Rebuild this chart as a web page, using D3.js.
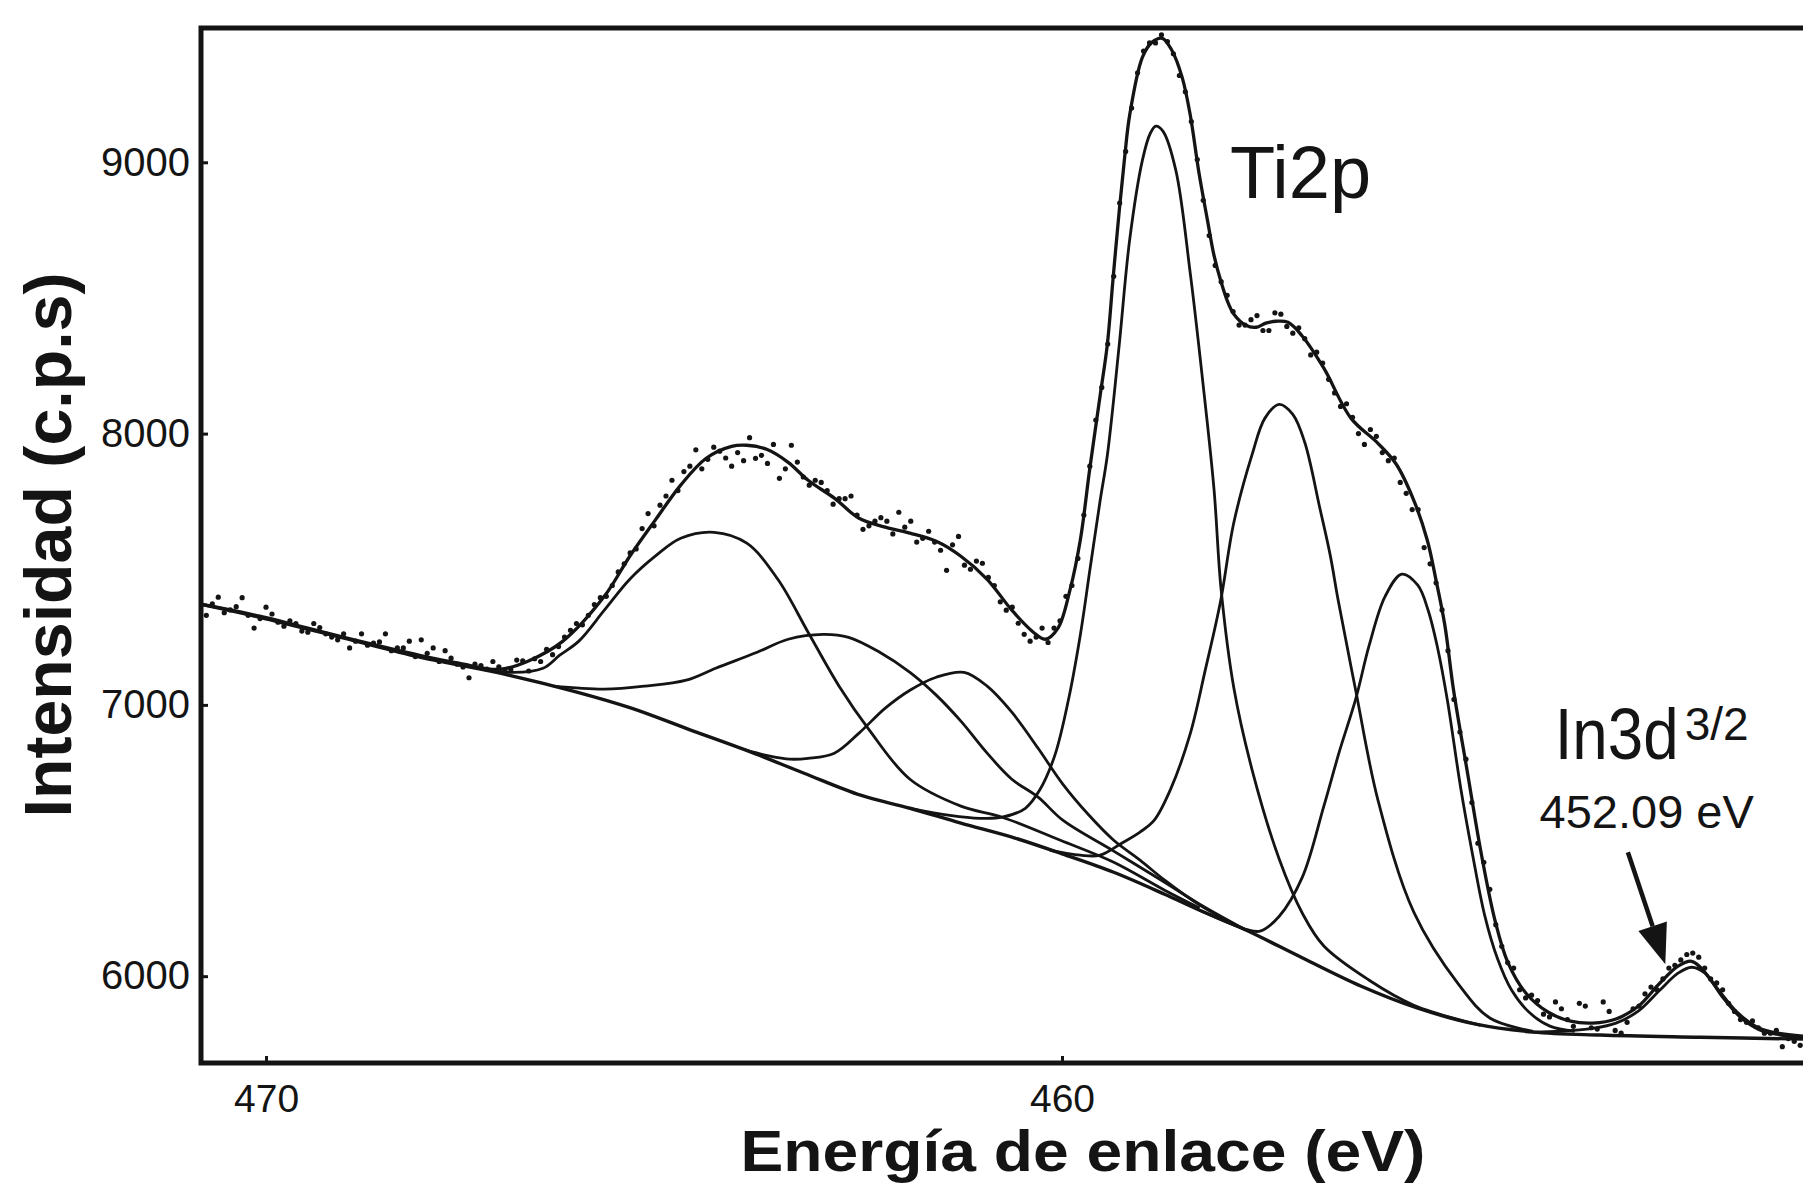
<!DOCTYPE html>
<html>
<head>
<meta charset="utf-8">
<script src="https://cdn.jsdelivr.net/npm/d3@7"></script>
<style>
  html, body { margin: 0; padding: 0; background: #fff; }
  svg { display: block; }
</style>
</head>
<body>
<svg id="chart" width="1803" height="1183"></svg>
<script>
// Axis ticks
const energyTicks = [470, 460];
const intensityTicks = [6000, 7000, 8000, 9000];

// Shirley background  [binding energy (eV), intensity (c.p.s)]
const shirleyBackground = [
  [470.82,7371],[470.08,7323],[469.02,7246],[468.07,7176],[467.06,7117],[466.13,7050],
  [465.41,6988],[464.69,6910],[463.97,6833],[463.24,6748],[462.53,6667],[461.91,6619],
  [461.27,6564],[460.59,6509],[459.99,6450],[459.35,6383],[458.71,6302],[458.27,6243],
  [457.69,6170],[456.97,6066],[456.24,5963],[455.53,5882],[454.80,5823],[454.08,5794],
  [453.24,5783],[451.98,5775],[450.69,5768]
];

// Sum of all fitted components
const fitEnvelope = [
  [470.82,7371],[470.08,7327],[469.02,7249],[468.07,7183],[467.58,7154],[467.07,7131],
  [466.71,7161],[466.27,7235],[465.75,7400],[465.43,7548],[465.11,7681],[464.79,7810],
  [464.47,7909],[464.15,7953],[463.96,7957],[463.71,7942],[463.44,7894],[463.19,7828],
  [462.86,7762],[462.55,7688],[462.22,7655],[461.91,7633],[461.58,7603],[461.27,7548],
  [460.94,7463],[460.63,7349],[460.36,7268],[460.21,7242],[460.05,7283],[459.90,7423],
  [459.77,7607],[459.65,7872],[459.52,8141],[459.43,8329],[459.36,8565],[459.28,8823],
  [459.21,9026],[459.15,9173],[458.99,9387],[458.87,9442],[458.74,9457],[458.62,9413],
  [458.49,9313],[458.39,9177],[458.28,8963],[458.17,8783],[458.09,8657],[458.00,8558],
  [457.91,8480],[457.84,8440],[457.69,8399],[457.56,8392],[457.44,8407],[457.31,8414],
  [457.16,8410],[456.98,8359],[456.71,8241],[456.37,8057],[456.03,7964],[455.80,7887],
  [455.58,7754],[455.41,7607],[455.30,7459],[455.19,7294],[455.08,7054],[454.90,6741],
  [454.74,6464],[454.56,6206],[454.40,6052],[454.17,5937],[453.89,5867],[453.61,5834],
  [453.33,5827],[453.04,5842],[452.76,5889],[452.49,5974],[452.26,6037],[452.09,6055],
  [451.98,6033],[451.75,5948],[451.52,5867],[451.29,5816],[451.08,5794],[450.69,5779]
];

// Individual fitted components (each drawn on top of the background)
const peak4644 = [
  [467.44,7143],[466.93,7120],[466.52,7135],[466.31,7183],[466.07,7235],[465.75,7349],
  [465.43,7463],[465.11,7548],[464.79,7614],[464.37,7636],[463.96,7596],[463.57,7463],
  [463.19,7268],[462.80,7069],[462.42,6907],[461.91,6726],[461.27,6627],[460.75,6586],
  [460.02,6501],[459.35,6420],[458.71,6317],[458.27,6251]
];
const peak4630 = [
  [466.39,7069],[465.75,7058],[465.24,7069],[464.72,7091],[464.35,7135],[463.83,7194],
  [463.44,7242],[463.00,7260],[462.68,7249],[462.29,7194],[461.91,7120],[461.58,7036],
  [461.27,6940],[460.94,6822],[460.63,6726],[460.30,6660],[459.99,6575],[459.35,6461],
  [458.71,6346],[458.27,6265],[457.69,6170]
];
const peak4612 = [
  [463.97,6833],[463.67,6811],[463.42,6800],[463.19,6803],[462.86,6822],[462.55,6896],
  [462.22,6988],[461.91,7054],[461.58,7102],[461.23,7120],[460.94,7069],[460.63,6973],
  [460.30,6840],[459.99,6708],[459.66,6593],[459.35,6501],[459.02,6428],[458.71,6354],
  [458.27,6262],[457.69,6170]
];
const peak4588 = [
  [461.91,6619],[461.41,6593],[461.03,6582],[460.75,6586],[460.46,6619],[460.28,6686],
  [460.09,6814],[459.92,7017],[459.77,7257],[459.65,7496],[459.52,7754],[459.43,7920],
  [459.28,8329],[459.15,8713],[458.99,9007],[458.89,9107],[458.82,9133],[458.73,9114],
  [458.57,8971],[458.39,8595],[458.23,8189],[458.09,7795],[458.00,7423],[457.84,7061],
  [457.61,6759],[457.27,6431],[456.98,6232],[456.71,6111],[456.14,5985],[455.58,5893],
  [454.74,5819]
];
const peak4573 = [
  [460.15,6464],[459.77,6446],[459.52,6446],[459.25,6490],[459.02,6531],[458.84,6575],
  [458.64,6686],[458.39,6892],[458.20,7128],[458.01,7378],[457.84,7673],[457.61,7924],
  [457.45,8057],[457.27,8108],[457.10,8071],[456.95,7968],[456.76,7725],[456.63,7552],
  [456.53,7386],[456.31,7054],[456.03,6649],[455.58,6236],[455.01,5967],[454.62,5845],
  [454.08,5797]
];
const peak4557 = [
  [458.27,6243],[457.69,6173],[457.51,6166],[457.27,6221],[456.98,6365],[456.71,6627],
  [456.51,6833],[456.31,7021],[456.14,7220],[455.94,7400],[455.73,7482],[455.53,7441],
  [455.40,7349],[455.28,7209],[455.16,7021],[454.99,6693],[454.84,6446],[454.69,6225],
  [454.53,6066],[454.35,5948],[454.12,5864],[453.87,5816],[453.56,5797]
];
const peakIn3d = [
  [454.08,5794],[453.74,5797],[453.33,5808],[453.04,5827],[452.76,5871],[452.49,5948],
  [452.26,6011],[452.09,6033],[451.92,6011],[451.71,5926],[451.48,5849],[451.23,5801],
  [450.98,5783],[450.69,5772]
];

// Measured counts
const measured = [
  [470.75,7330],[470.60,7397],[470.45,7350],[470.30,7395],[470.15,7283],[470.00,7360],
  [469.85,7305],[469.70,7310],[469.55,7272],[469.40,7300],[469.25,7262],[469.10,7240],
  [468.95,7210],[468.80,7262],[468.65,7228],[468.50,7262],[468.35,7210],[468.20,7235],
  [468.05,7240],[467.90,7210],[467.75,7200],[467.60,7150],[467.45,7100],[467.30,7145],
  [467.15,7160],[467.00,7128],[466.85,7165],[466.70,7125],[466.55,7160],[466.40,7185],
  [466.25,7250],[466.10,7300],[465.95,7330],[465.80,7395],[465.65,7440],[465.50,7520],
  [465.35,7575],[465.20,7705],[465.05,7736],[464.90,7828],[464.75,7860],[464.60,7940],
  [464.45,7905],[464.30,7935],[464.15,7880],[464.00,7900],[463.85,7909],[463.70,7890],
  [463.55,7835],[463.40,7957],[463.25,7840],[463.10,7828],[462.95,7790],[462.80,7760],
  [462.65,7770],[462.50,7647],[462.35,7677],[462.20,7677],[462.05,7710],[461.90,7677],
  [461.75,7614],[461.60,7600],[461.45,7496],[461.30,7621],[461.15,7500],[461.00,7522],
  [460.85,7440],[460.70,7349],[460.55,7301],[460.40,7235],[460.25,7283],[460.10,7283],
  [459.95,7400],[459.80,7540],[459.65,7880],[459.50,8170],[459.35,8580],[459.20,9040],
  [459.05,9330],[458.90,9440],[458.75,9470],[458.60,9400],[458.45,9260],[458.30,9010],
  [458.15,8730],[458.00,8560],[457.85,8450],[457.70,8400],[457.55,8435],[457.40,8380],
  [457.25,8440],[457.10,8370],[456.95,8350],[456.80,8300],[456.65,8200],[456.50,8100],
  [456.35,8060],[456.20,7960],[456.05,7990],[455.90,7900],[455.75,7820],[455.60,7720],
  [455.45,7580],[455.30,7450],[455.15,7200],[455.00,6900],[454.85,6640],[454.70,6420],
  [454.55,6190],[454.40,6050],[454.25,5950],[454.10,5930],[453.95,5860],[453.80,5905],
  [453.65,5840],[453.50,5900],[453.35,5810],[453.20,5905],[453.05,5800],[452.90,5830],
  [452.75,5890],[452.60,5960],[452.45,5990],[452.30,6040],[452.15,6080],[452.00,6070],
  [451.85,5990],[451.70,5950],[451.55,5870],[451.40,5830],[451.25,5810],[451.10,5790],
  [450.95,5740],[450.80,5760],
  [470.675,7372],[470.525,7340],[470.375,7362],[470.225,7330],[470.075,7318],[469.925,7335],
  [469.775,7290],[469.625,7300],[469.475,7268],[469.325,7285],[469.175,7250],[469.025,7262],
  [468.875,7235],[468.725,7220],[468.575,7232],[468.425,7200],[468.275,7210],[468.125,7178],
  [467.975,7190],[467.825,7160],[467.675,7172],[467.525,7140],[467.375,7150],[467.225,7132],
  [467.075,7140],[466.925,7130],[466.775,7162],[466.625,7170],[466.475,7205],[466.325,7215],
  [466.175,7275],[466.025,7295],[465.875,7370],[465.725,7400],[465.575,7490],[465.425,7560],
  [465.275,7650],[465.125,7660],[464.975,7770],[464.825,7790],[464.675,7880],[464.525,7870],
  [464.375,7950],[464.225,7910],[464.075,7930],[463.925,7985],[463.775,7920],[463.625,7960],
  [463.475,7870],[463.325,7895],[463.175,7810],[463.025,7820],[462.875,7740],[462.725,7760],
  [462.575,7700],[462.425,7660],[462.275,7690],[462.125,7630],[461.975,7655],[461.825,7600],
  [461.675,7640],[461.525,7570],[461.375,7590],[461.225,7515],[461.075,7530],[460.925,7470],
  [460.775,7380],[460.625,7360],[460.475,7260],[460.325,7250],[460.175,7230],[460.025,7310],
  [459.875,7440],[459.725,7700],[459.575,8050],[459.425,8330],[459.275,8850],[459.125,9200],
  [458.975,9410],[458.825,9440],[458.675,9445],[458.525,9320],[458.375,9150],[458.225,8860],
  [458.075,8620],[457.925,8510],[457.775,8400],[457.625,8420],[457.475,8380],[457.325,8445],
  [457.175,8395],[457.025,8390],[456.875,8290],[456.725,8260],[456.575,8150],[456.425,8110],
  [456.275,8000],[456.125,8015],[455.975,7930],[455.825,7910],[455.675,7780],[455.525,7720],
  [455.375,7520],[455.225,7350],[455.075,7020],[454.925,6800],[454.775,6490],[454.625,6320],
  [454.475,6110],[454.325,6030],[454.175,5920],[454.025,5910],[453.875,5850],[453.725,5880],
  [453.575,5815],[453.425,5890],[453.275,5805],[453.125,5870],[452.975,5790],[452.825,5880],
  [452.675,5935],[452.525,5950],[452.375,6030],[452.225,6060],[452.075,6085],[451.925,6030],
  [451.775,5975],[451.625,5900],[451.475,5840],[451.325,5835],[451.175,5790],[451.025,5800],
  [450.875,5770],[450.725,5745]
];

// Annotation anchors [eV, c.p.s]
const tiLabelAt = [457.89, 8867];
const inLabelAt = [453.81, 6800];
const inEnergyLabelAt = [454.00, 6545];
const inArrow = [[452.89, 6457], [452.42, 6044]];

const INK = "#141414";
const FONT = "'Liberation Sans', Arial, Helvetica, sans-serif";

const svg = d3.select("#chart");

const x = d3.scaleLinear().domain([470.817, 450.69]).range([201, 1803]);
const y = d3.scaleLinear().domain([5680, 9495]).range([1063, 28]);

const [x0, x1] = x.range();
const [yBottom, yTop] = y.range();

svg.append("defs").append("clipPath").attr("id", "plotArea")
  .append("rect").attr("x", x0).attr("y", yTop).attr("width", x1 - x0).attr("height", yBottom - yTop);

const plot = svg.append("g").attr("clip-path", "url(#plotArea)");

const line = d3.line()
  .x(d => x(d[0]))
  .y(d => y(d[1]))
  .curve(d3.curveCatmullRom.alpha(0.5));

// Background and components
const components = [peak4644, peak4630, peak4612, peak4588, peak4573, peak4557, peakIn3d];
plot.append("path").datum(shirleyBackground)
  .attr("d", line).attr("fill", "none").attr("stroke", INK).attr("stroke-width", 3.4);

plot.selectAll("path.component").data(components).join("path")
  .attr("class", "component")
  .attr("d", line).attr("fill", "none").attr("stroke", INK).attr("stroke-width", 2.8);

// Envelope
plot.append("path").datum(fitEnvelope)
  .attr("d", line).attr("fill", "none").attr("stroke", INK).attr("stroke-width", 3.3);

// Measured points
plot.selectAll("circle.pt").data(measured).join("circle")
  .attr("class", "pt")
  .attr("cx", d => x(d[0])).attr("cy", d => y(d[1])).attr("r", 2.6).attr("fill", INK);

// Axes
const yAxis = d3.axisLeft(y).tickValues(intensityTicks).tickSize(-7).tickPadding(11)
  .tickFormat(d3.format("d"));
const gy = svg.append("g").attr("transform", `translate(${x0},0)`).call(yAxis);
gy.select(".domain").remove();
gy.selectAll(".tick line").attr("stroke", INK).attr("stroke-width", 3);
gy.selectAll(".tick text").attr("font-family", FONT).attr("font-size", 40).attr("fill", INK);

const xAxis = d3.axisBottom(x).tickValues(energyTicks).tickSize(-7).tickPadding(21)
  .tickFormat(d3.format("d"));
const gx = svg.append("g").attr("transform", `translate(0,${yBottom})`).call(xAxis);
gx.select(".domain").remove();
gx.selectAll(".tick line").attr("stroke", INK).attr("stroke-width", 3);
gx.selectAll(".tick text").attr("font-family", FONT).attr("font-size", 39).attr("fill", INK);

// Frame (top, left, bottom)
svg.append("path")
  .attr("d", `M${x1},${yTop} H${x0} V${yBottom} H${x1}`)
  .attr("fill", "none").attr("stroke", INK).attr("stroke-width", 5);

// Axis titles
svg.append("text")
  .attr("x", 1083).attr("y", 1171)
  .attr("text-anchor", "middle")
  .attr("font-family", FONT).attr("font-weight", "bold").attr("font-size", 58)
  .attr("textLength", 685).attr("lengthAdjust", "spacingAndGlyphs")
  .attr("fill", INK)
  .text("Energía de enlace (eV)");

svg.append("text")
  .attr("transform", "translate(71,545) rotate(-90)")
  .attr("text-anchor", "middle")
  .attr("font-family", FONT).attr("font-weight", "bold").attr("font-size", 66)
  .attr("textLength", 545).attr("lengthAdjust", "spacingAndGlyphs")
  .attr("fill", INK)
  .text("Intensidad (c.p.s)");

// Peak labels
svg.append("text")
  .attr("x", x(tiLabelAt[0])).attr("y", y(tiLabelAt[1]))
  .attr("font-family", FONT).attr("font-size", 74).attr("fill", INK)
  .text("Ti2p");

const inLabel = svg.append("g")
  .attr("transform", `translate(${x(inLabelAt[0])},${y(inLabelAt[1])})`);
inLabel.append("text")
  .attr("transform", "scale(0.885,1)")
  .attr("font-family", FONT).attr("font-size", 72).attr("fill", INK)
  .text("In3d");
inLabel.append("text")
  .attr("x", 130).attr("y", -19)
  .attr("font-family", FONT).attr("font-size", 46).attr("fill", INK)
  .text("3/2");

svg.append("text")
  .attr("x", x(inEnergyLabelAt[0])).attr("y", y(inEnergyLabelAt[1]))
  .attr("font-family", FONT).attr("font-size", 47).attr("fill", INK)
  .text("452.09 eV");

// Arrow pointing at the In 3d peak
const ax0 = x(inArrow[0][0]), ay0 = y(inArrow[0][1]);
const ax1 = x(inArrow[1][0]), ay1 = y(inArrow[1][1]);
const ang = Math.atan2(ay1 - ay0, ax1 - ax0);
const headLen = 40, headHalf = 15;
const bx = ax1 - headLen * Math.cos(ang), by = ay1 - headLen * Math.sin(ang);
svg.append("line")
  .attr("x1", ax0).attr("y1", ay0).attr("x2", bx).attr("y2", by)
  .attr("stroke", INK).attr("stroke-width", 4.5);
svg.append("path")
  .attr("d", `M${ax1},${ay1} L${bx - headHalf * Math.sin(ang)},${by + headHalf * Math.cos(ang)} L${bx + headHalf * Math.sin(ang)},${by - headHalf * Math.cos(ang)} Z`)
  .attr("fill", INK);
</script>
</body>
</html>
